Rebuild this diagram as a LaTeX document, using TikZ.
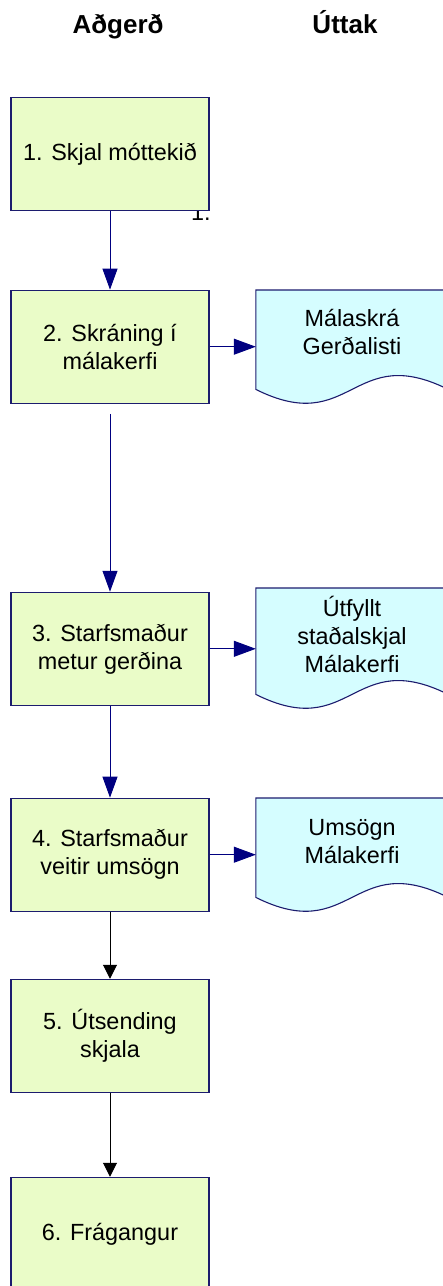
\documentclass[tikz,border=0pt]{standalone}
\usepackage{fontspec}
\setmainfont{Liberation Sans}
\usetikzlibrary{arrows.meta,calc,backgrounds}
\definecolor{boxgreen}{RGB}{234,252,200}
\definecolor{doccyan}{RGB}{213,253,255}
\definecolor{navy}{RGB}{0,0,128}
\definecolor{bordernavy}{RGB}{28,28,110}
\newcommand\boxfont{\fontsize{23.4}{28}\selectfont}
\newcommand\headfont{\fontsize{26}{30}\selectfont\bfseries}
\tikzset{
  stepbox/.style={draw=bordernavy, line width=1.1pt, fill=boxgreen, minimum width=198pt, minimum height=113pt, inner sep=0pt, align=center, font=\boxfont},
  docbox/.style={minimum width=192pt, inner sep=0pt, align=center, font=\boxfont, anchor=north},
  docshape/.style={draw=bordernavy, line width=1.1pt, fill=doccyan},
  navyarrow/.style={draw=navy, line width=1pt, -{Triangle[length=21pt,width=15pt]}},
  sidearrow/.style={draw=navy, line width=1pt, -{Triangle[length=22pt,width=16pt]}},
  blackarrow/.style={draw=black, line width=1pt, -{Triangle[length=14pt,width=14pt]}},
  head/.style={font=\headfont, anchor=base, inner sep=0pt}
}
\begin{document}
\begin{tikzpicture}[x=1pt,y=-1pt]
\useasboundingbox (0,0) rectangle (443,1286);
\node[head] (h1) at (118,33) {Aðgerð};
\node[head] (h2) at (345,33) {Úttak};

\node[font=\boxfont, anchor=base west, inner sep=0pt] (frag) at (191,220) {1.};

\node[stepbox] (b1) at (110,154) {1. Skjal móttekið};
\node[stepbox] (b2) at (110,346.7) {2. Skráning í\\málakerfi};
\node[stepbox] (b3) at (110,648.8) {3. Starfsmaður\\metur gerðina};
\node[stepbox] (b4) at (110,854.7) {4. Starfsmaður\\veitir umsögn};
\node[stepbox] (b5) at (110,1035.8) {5. Útsending\\skjala};
\node[stepbox] (b6) at (110,1233.8) {6. Frágangur};

\node[docbox, minimum height=84pt] (d2) at (352,290) {Málaskrá\\Gerðalisti};
\node[docbox, minimum height=92pt] (d3) at (352,588) {Útfyllt\\staðalskjal\\Málakerfi};
\node[docbox, minimum height=86pt] (d4) at (352,798) {Umsögn\\Málakerfi};

\begin{scope}[on background layer]
\foreach \d/\e in {d2/15, d3/14, d4/13}{
  \path[docshape] (\d.north west) -- (\d.north east) -- ($(\d.south east)+(0,\e)$)
    .. controls ($(\d.south)+(0,\e-48)$) and ($(\d.south)+(0,\e+48)$) .. ($(\d.south west)+(0,\e)$) -- cycle;
}
\end{scope}

\draw[navyarrow] (b1) -- (b2);
\draw[navyarrow, shorten <=10pt] (b2) -- (b3);
\draw[navyarrow] (b3) -- (b4);
\draw[blackarrow] (b4) -- (b5);
\draw[blackarrow] (b5) -- (b6);

\draw[sidearrow] (b2.east) -- (b2.east -| d2.west);
\draw[sidearrow] (b3.east) -- (b3.east -| d3.west);
\draw[sidearrow] (b4.east) -- (b4.east -| d4.west);
\end{tikzpicture}
\end{document}
